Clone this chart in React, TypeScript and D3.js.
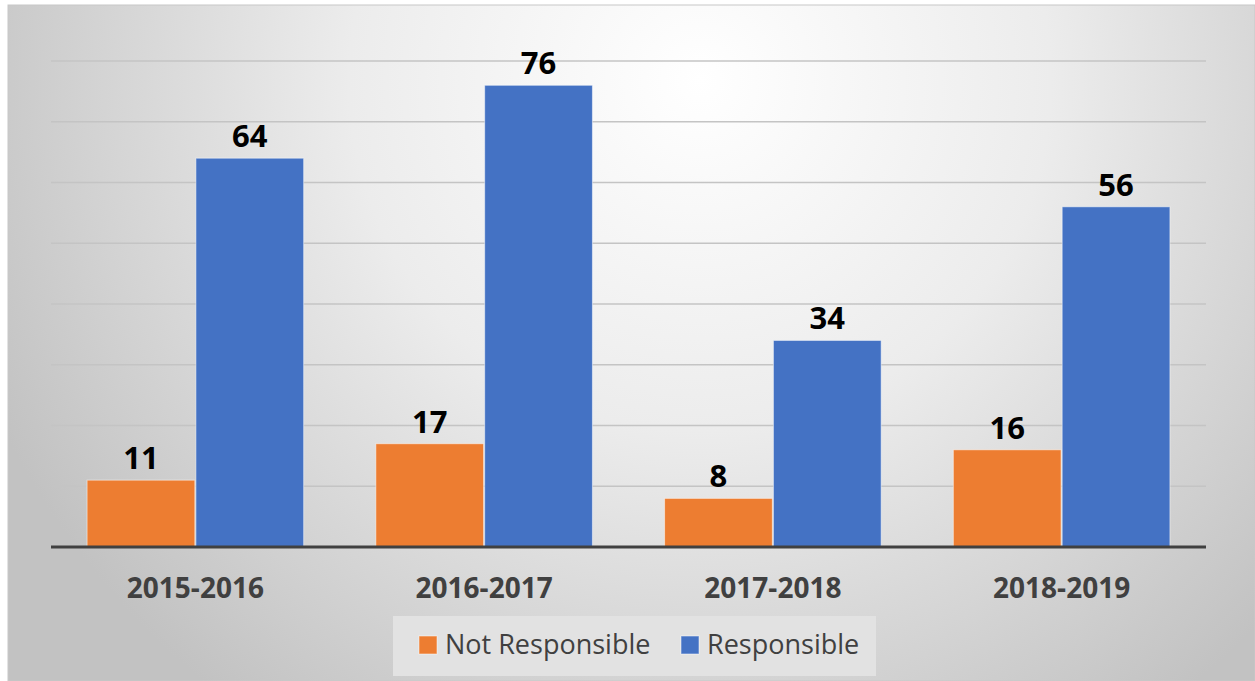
import React from 'react';
import * as d3 from 'd3';

const categories = ['2015-2016', '2016-2017', '2017-2018', '2018-2019'];
const seriesNames = ['Not Responsible', 'Responsible'];
const notResponsible = [11, 17, 8, 16];
const responsible = [64, 76, 34, 56];
const gridTicks = [10, 20, 30, 40, 50, 60, 70, 80];

const colors = ['#ED7D31', '#4472C4'];

export default function App() {
  const width = 1255;
  const height = 681;
  const plot = { left: 51, right: 1206, top: 61, bottom: 547 };

  const x = d3
    .scaleBand<string>()
    .domain(categories)
    .range([plot.left, plot.right])
    .paddingInner(0.25)
    .paddingOuter(0.125);

  const inner = d3
    .scaleBand<string>()
    .domain(seriesNames)
    .range([0, x.bandwidth()])
    .paddingInner(0.01);

  const y = d3.scaleLinear().domain([0, 80]).range([plot.bottom, plot.top]);

  const series = [notResponsible, responsible];

  return (
    <svg
      width={width}
      height={height}
      style={{ position: 'absolute', left: 0, top: 0, fontFamily: "'Open Sans', 'Noto Sans', sans-serif" }}
    >
      <defs>
        <radialGradient id="bg" cx="700" cy="80" r="780" gradientUnits="userSpaceOnUse">
          <stop offset="0" stopColor="#ffffff" />
          <stop offset="0.45" stopColor="#ececec" />
          <stop offset="1" stopColor="#c2c2c2" />
        </radialGradient>
      </defs>
      <rect x={0} y={0} width={width} height={height} fill="#ffffff" />
      <rect x={8} y={5} width={width - 8} height={height - 5} fill="url(#bg)" stroke="#c8c8c8" strokeWidth={1} />

      {/* grid lines */}
      {gridTicks.map((t) => (
        <line
          key={t}
          x1={plot.left}
          x2={plot.right}
          y1={y(t)}
          y2={y(t)}
          stroke="#c4c4c4"
          strokeWidth={1.5}
        />
      ))}

      {/* bars */}
      {categories.map((c, i) => (
        <g key={c} transform={`translate(${x(c)},0)`}>
          {seriesNames.map((s, j) => {
            const v = series[j][i];
            const bx = inner(s) as number;
            return (
              <g key={s}>
                <rect
                  x={bx}
                  y={y(v)}
                  width={inner.bandwidth()}
                  height={y(0) - y(v)}
                  fill={colors[j]}
                  stroke="#ffffff"
                  strokeOpacity={0.5}
                  strokeWidth={1}
                />
                <text
                  x={bx + inner.bandwidth() / 2}
                  y={y(v) - 11}
                  textAnchor="middle"
                  fontSize={31}
                  fontWeight="bold"
                  fill="#000000"
                >
                  {v}
                </text>
              </g>
            );
          })}
        </g>
      ))}

      {/* baseline */}
      <line x1={plot.left} x2={plot.right} y1={y(0)} y2={y(0)} stroke="#404040" strokeWidth={3} />

      {/* category labels */}
      {categories.map((c) => (
        <text
          key={c}
          x={(x(c) as number) + x.bandwidth() / 2}
          y={598}
          textAnchor="middle"
          fontSize={28}
          fontWeight="bold"
          fill="#404040"
        >
          {c}
        </text>
      ))}

      {/* legend */}
      <rect x={393} y={616} width={483} height={60} fill="#e2e2e2" />
      <rect x={419} y={636} width={18} height={18} fill={colors[0]} stroke="#ffffff" strokeOpacity={0.5} />
      <text x={445} y={654} fontSize={27} fill="#404040">
        {seriesNames[0]}
      </text>
      <rect x={681} y={636} width={18} height={18} fill={colors[1]} stroke="#ffffff" strokeOpacity={0.5} />
      <text x={707} y={654} fontSize={27} fill="#404040">
        {seriesNames[1]}
      </text>
    </svg>
  );
}
